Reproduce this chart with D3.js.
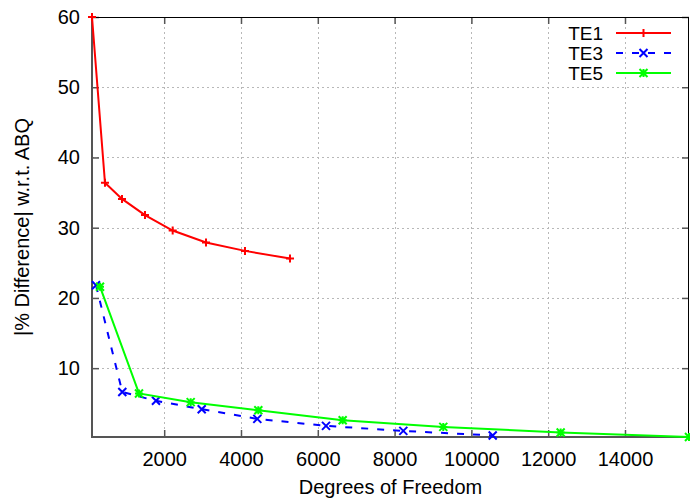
<!DOCTYPE html>
<html>
<head>
<meta charset="utf-8">
<script src="https://cdn.jsdelivr.net/npm/d3@7"></script>
<style>
  html, body { margin: 0; padding: 0; background: #fff; }
  svg { display: block; font-family: "Liberation Sans", Arial, Helvetica, sans-serif; }
</style>
</head>
<body>
<svg id="chart" width="690" height="499"></svg>
<script>
// ---- data ----
const te1X = [120, 458, 901, 1500, 2221, 3089, 4104, 5276];
const te1Y = [60, 36.4, 34.1, 31.8, 29.6, 27.9, 26.7, 25.6];
const te3X = [224, 909, 1786, 2977, 4425, 6214, 8227, 10555];
const te3Y = [21.8, 6.6, 5.35, 4.16, 2.78, 1.78, 1.07, 0.41];
const te5X = [328, 1344, 2690, 4451, 6648, 9268, 12325, 15667];
const te5Y = [21.6, 6.4, 5.16, 4.02, 2.59, 1.64, 0.84, 0.2];
const xTicks = [2000, 4000, 6000, 8000, 10000, 12000, 14000];
const yTicks = [10, 20, 30, 40, 50, 60];
const seriesNames = ["TE1", "TE3", "TE5"];
const xLabel = "Degrees of Freedom";
const yLabel = "|% Difference| w.r.t. ABQ";

// ---- layout ----
const L = 92, R = 689, T = 17, B = 437;
const svg = d3.select("#chart");
const x = d3.scaleLinear().domain([120, 15667]).range([L, R]);
const y = d3.scaleLinear().domain([0.2, 60]).range([B, T]);
const FS = 20;

// grid
const grid = svg.append("g").attr("stroke", "#b8b8b8").attr("stroke-width", 1).attr("stroke-dasharray", "2,3");
xTicks.forEach(t => grid.append("line").attr("x1", Math.round(x(t)) + 0.5).attr("x2", Math.round(x(t)) + 0.5).attr("y1", T).attr("y2", B));
yTicks.filter(t => t < 60).forEach(t => grid.append("line").attr("x1", L).attr("x2", R).attr("y1", Math.round(y(t)) + 0.5).attr("y2", Math.round(y(t)) + 0.5));

// axes via d3 axis (labels), ticks inward
const xAxis = svg.append("g").attr("transform", `translate(0,${B})`)
  .call(d3.axisBottom(x).tickValues(xTicks).tickSize(-7).tickPadding(15).tickFormat(d3.format("d")));
xAxis.select(".domain").remove();
xAxis.selectAll("line").attr("stroke", "#555").attr("stroke-width", 1.5);
xAxis.selectAll("text").attr("font-size", FS).attr("fill", "#000").attr("font-family", null);

const xTop = svg.append("g").attr("transform", `translate(0,${T})`)
  .call(d3.axisTop(x).tickValues(xTicks).tickSize(-7).tickFormat(""));
xTop.select(".domain").remove();
xTop.selectAll("line").attr("stroke", "#555").attr("stroke-width", 1.5);

const yAxis = svg.append("g").attr("transform", `translate(${L},0)`)
  .call(d3.axisLeft(y).tickValues(yTicks).tickSize(-7).tickPadding(12).tickFormat(d3.format("d")));
yAxis.select(".domain").remove();
yAxis.selectAll("line").attr("stroke", "#555").attr("stroke-width", 1.5);
yAxis.selectAll("text").attr("font-size", FS).attr("fill", "#000").attr("font-family", null);

const yRight = svg.append("g").attr("transform", `translate(${R},0)`)
  .call(d3.axisRight(y).tickValues(yTicks).tickSize(-7).tickFormat(""));
yRight.select(".domain").remove();
yRight.selectAll("line").attr("stroke", "#555").attr("stroke-width", 1.5);

// border
svg.append("line").attr("x1", L).attr("x2", R).attr("y1", T + 0.5).attr("y2", T + 0.5).attr("stroke", "#000").attr("stroke-width", 1);
svg.append("line").attr("x1", R - 0.5).attr("x2", R - 0.5).attr("y1", T).attr("y2", B).attr("stroke", "#000").attr("stroke-width", 1);
svg.append("line").attr("x1", L).attr("x2", L).attr("y1", T).attr("y2", B + 1).attr("stroke", "#555").attr("stroke-width", 2);
svg.append("line").attr("x1", L - 1).attr("x2", R).attr("y1", B).attr("y2", B).attr("stroke", "#555").attr("stroke-width", 2);

// labels
svg.append("text").attr("x", (L + R) / 2).attr("y", 494).attr("text-anchor", "middle").attr("font-size", FS).text(xLabel);
svg.append("text").attr("transform", `translate(29,${(T + B) / 2}) rotate(-90)`).attr("text-anchor", "middle").attr("font-size", FS).text(yLabel);

// markers
function marker(g, type, cx, cy, color, s) {
  const p = d3.path();
  if (type === "+" || type === "*") { p.moveTo(cx - s, cy); p.lineTo(cx + s, cy); p.moveTo(cx, cy - s); p.lineTo(cx, cy + s); }
  if (type === "x" || type === "*") { p.moveTo(cx - s, cy - s); p.lineTo(cx + s, cy + s); p.moveTo(cx - s, cy + s); p.lineTo(cx + s, cy - s); }
  g.append("path").attr("d", p.toString()).attr("stroke", color).attr("stroke-width", 2).attr("fill", "none");
}

const series = [
  { name: seriesNames[0], xs: te1X, ys: te1Y, color: "#ff0000", dash: null, m: "+" },
  { name: seriesNames[1], xs: te3X, ys: te3Y, color: "#0000ff", dash: "7,9", m: "x" },
  { name: seriesNames[2], xs: te5X, ys: te5Y, color: "#00ff00", dash: null, m: "*" }
];
const line = d3.line().x(d => x(d[0])).y(d => y(d[1]));
series.forEach(s => {
  const pts = s.xs.map((v, i) => [v, s.ys[i]]);
  svg.append("path").datum(pts).attr("d", line).attr("fill", "none").attr("stroke", s.color)
    .attr("stroke-width", 2).attr("stroke-dasharray", s.dash);
  const g = svg.append("g");
  pts.forEach(p => marker(g, s.m, x(p[0]), y(p[1]), s.color, 4));
});

// legend
series.forEach((s, i) => {
  const ly = 33 + i * 20;
  svg.append("text").attr("x", 603).attr("y", ly).attr("dy", "0.35em").attr("text-anchor", "end").attr("font-size", 19).text(s.name);
  svg.append("line").attr("x1", 616).attr("x2", 671).attr("y1", ly).attr("y2", ly).attr("stroke", s.color)
    .attr("stroke-width", 2).attr("stroke-dasharray", s.dash);
  marker(svg, s.m, 643.5, ly, s.color, 4);
});
</script>
</body>
</html>
